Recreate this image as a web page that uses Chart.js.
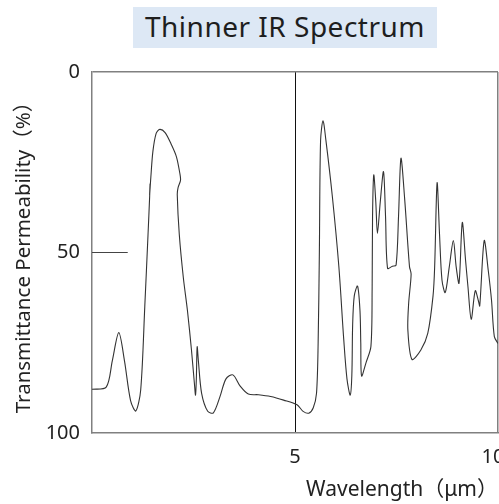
<!DOCTYPE html>
<html>
<head>
<meta charset="utf-8">
<title>Thinner IR Spectrum</title>
<script src="https://cdn.jsdelivr.net/npm/chart.js@4"></script>
<style>
    body { margin: 0; background: #fff; }
    #wrap { position: relative; width: 499px; height: 504px; }
    #chartTitle {
        position: absolute; left: 133px; top: 7px; width: 304px; height: 41px;
        background: #dde8f5; color: #1e1e1e; text-align: center; line-height: 41px;
        font: 400 28px "Noto Sans", "Noto Sans CJK JP", sans-serif; letter-spacing: 0.5px;
    }
    canvas { position: absolute; left: 0; top: 0; }
</style>
</head>
<body>
<div id="wrap">
    <canvas id="irChart" width="499" height="504"></canvas>
    <div id="chartTitle">Thinner IR Spectrum</div>
</div>
<script>
// Wavelength (µm) and transmittance (%), in drawing order
const wavelength = [
    0.00, 0.35, 0.50, 0.66, 0.80, 0.95, 1.08, 1.20, 1.30, 1.38,
    1.42, 1.43, 1.42, 1.45, 1.50, 1.58, 1.67, 1.80, 1.95, 2.08,
    2.17, 2.18, 2.12, 2.10, 2.15, 2.25, 2.35, 2.45, 2.52, 2.55,
    2.57, 2.59, 2.62, 2.70, 2.85, 2.99, 3.15, 3.30, 3.47, 3.65,
    3.85, 4.10, 4.40, 4.72, 5.05, 5.20, 5.34, 5.45, 5.53, 5.57,
    5.60, 5.63, 5.69, 5.76, 5.92, 6.08, 6.20, 6.28, 6.36, 6.40,
    6.42, 6.46, 6.54, 6.60, 6.62, 6.64, 6.75, 6.87, 6.90, 6.91,
    6.94, 6.99, 7.03, 7.10, 7.18, 7.23, 7.28, 7.40, 7.49, 7.55,
    7.61, 7.70, 7.82, 7.86, 7.80, 7.78, 7.88, 8.10, 8.27, 8.40,
    8.44, 8.50, 8.56, 8.62, 8.70, 8.80, 8.90, 8.97, 9.04, 9.12,
    9.20, 9.26, 9.34, 9.44, 9.52, 9.55, 9.66, 9.76, 9.84, 9.91,
    10.0
];
const transmittance = [
    87.9, 87.3, 80.0, 72.2, 80.0, 91.0, 93.9, 88.0, 65.0, 45.0,
    34.5, 31.0, 34.0, 29.0, 22.0, 17.0, 15.9, 16.8, 20.0, 23.5,
    28.5, 30.0, 32.0, 34.0, 45.0, 57.0, 66.0, 77.0, 86.0, 89.5,
    85.0, 76.1, 80.0, 89.0, 94.0, 94.4, 90.0, 85.0, 83.9, 87.0,
    89.2, 89.4, 89.9, 90.9, 92.2, 94.0, 94.5, 93.0, 89.0, 75.0,
    50.0, 19.0, 13.5, 18.8, 34.5, 53.9, 74.0, 85.0, 89.5, 84.0,
    70.0, 62.0, 59.3, 66.0, 75.0, 84.2, 80.5, 76.0, 60.0, 40.0,
    28.5, 36.0, 44.7, 36.0, 27.6, 40.0, 54.4, 53.8, 53.5, 40.0,
    23.9, 35.0, 53.9, 56.0, 64.0, 71.5, 79.6, 77.0, 72.4, 62.0,
    53.9, 30.7, 45.0, 57.6, 61.1, 54.0, 46.7, 54.0, 58.5, 41.7,
    52.0, 59.5, 68.5, 60.6, 63.5, 64.8, 46.7, 55.0, 63.2, 73.3,
    75.2
];

// Short reference mark at 50 %
const markX = [0, 0.88];
const markY = [50, 50];

const xTicks = [5, 10];
const yTicks = [0, 50, 100];

const font = '"Noto Sans", "Noto Sans CJK JP", sans-serif';
const frameColor = '#808080';

const spectrum = wavelength.map((w, i) => ({ x: w, y: transmittance[i] }));
const mark = markX.map((v, i) => ({ x: v, y: markY[i] }));

new Chart(document.getElementById('irChart'), {
    type: 'scatter',
    data: {
        datasets: [{
            data: spectrum,
            showLine: true,
            borderColor: '#333',
            borderWidth: 1.1,
            pointRadius: 0,
            tension: 0.3,
            fill: false
        }, {
            data: mark,
            showLine: true,
            borderColor: '#444',
            borderWidth: 1.2,
            pointRadius: 0,
            tension: 0
        }]
    },
    options: {
        responsive: false,
        animation: false,
        layout: { padding: { top: 72, left: 0, right: 1, bottom: 0 } },
        plugins: { legend: { display: false }, tooltip: { enabled: false } },
        scales: {
            x: {
                type: 'linear',
                min: 0,
                max: 10,
                afterBuildTicks: s => { s.ticks = xTicks.map(v => ({ value: v })); },
                afterFit: s => { s.paddingLeft = 0; s.paddingRight = 0; s.height = 71; },
                ticks: {
                    color: '#222', font: { family: font, size: 20 }, padding: 12, maxRotation: 0,
                    callback: v => v === 10 ? '10\u2002' : String(v)
                },
                grid: {
                    color: c => (c.tick && c.tick.value === 5) ? '#111' : frameColor,
                    lineWidth: c => (c.tick && c.tick.value === 5) ? 1 : 1.5,
                    drawTicks: false
                },
                border: { color: frameColor, width: 1.5 },
                title: {
                    display: true,
                    text: 'Wavelength（μm）',
                    align: 'end',
                    color: '#222',
                    font: { family: font, size: 21 },
                    padding: { top: 0, bottom: 1 }
                }
            },
            y: {
                min: 0,
                max: 100,
                reverse: true,
                afterBuildTicks: s => { s.ticks = yTicks.map(v => ({ value: v })); },
                afterFit: s => { s.width = 92; },
                ticks: { color: '#222', font: { family: font, size: 20 }, padding: 12 },
                grid: {
                    color: c => (c.tick && c.tick.value === 0) ? frameColor : 'transparent',
                    lineWidth: 1.5,
                    drawTicks: false
                },
                border: { color: frameColor, width: 1.5 },
                title: {
                    display: true,
                    text: 'Transmittance Permeability（%）',
                    color: '#222',
                    font: { family: font, size: 20.5 },
                    padding: { top: 11.5, bottom: 0 }
                }
            }
        }
    }
});
</script>
</body>
</html>
